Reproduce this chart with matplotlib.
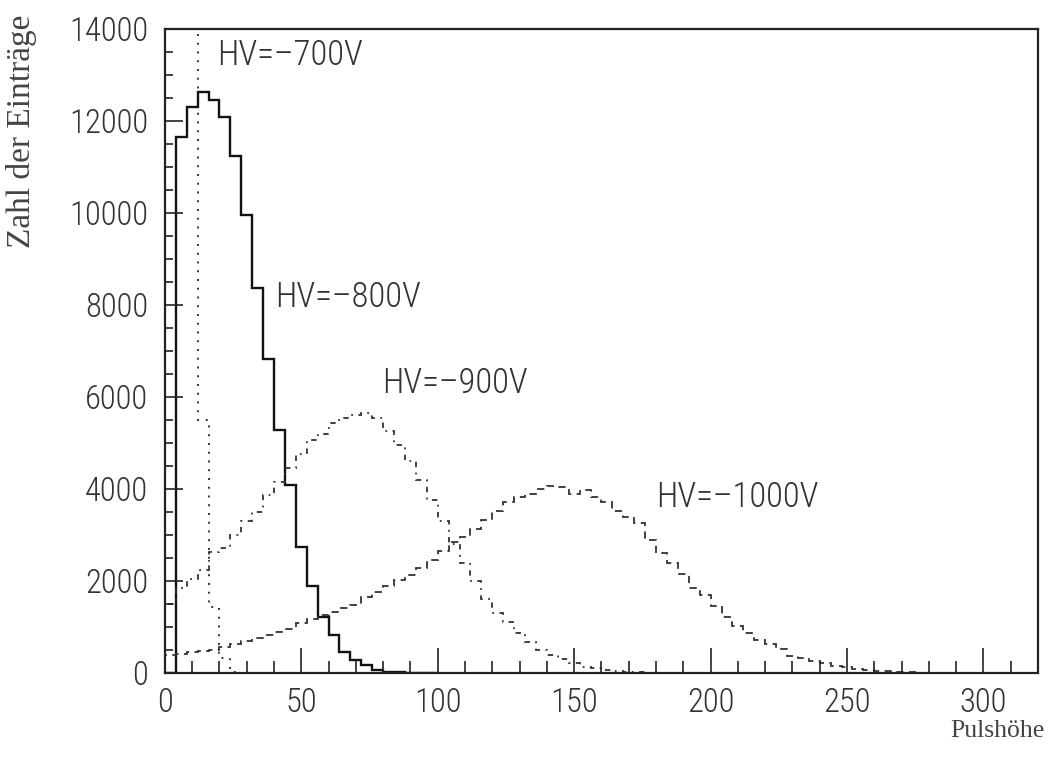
import numpy as np
import matplotlib
matplotlib.use("Agg")
import matplotlib.pyplot as plt
from matplotlib.ticker import MultipleLocator

# pulse-height spectra, 4-channel bins starting at 0
bin_width = 4

hv700 = [15500, 30000, 26000, 5500, 1430, 330, 30, 0]

hv800 = [0, 11660, 12300, 12640, 12460, 12090, 11240, 9960, 8370, 6830,
         5280, 4090, 2740, 1890, 1220, 830, 460, 280, 170, 65,
         30, 15, 8, 4, 0]

hv900 = [1500, 1850, 2050, 2240, 2630, 2720, 3000, 3300, 3500, 3870,
         4150, 4450, 4750, 5070, 5200, 5430, 5550, 5610, 5650, 5550,
         5250, 4950, 4600, 4200, 3750, 3300, 2800, 2400, 2000, 1600,
         1300, 1100, 870, 680, 500, 380, 300, 210, 140, 110,
         70, 50, 30, 20, 10, 5, 0]

hv1000 = [380, 420, 460, 480, 510, 570, 630, 700, 770, 830,
          880, 960, 1080, 1180, 1260, 1330, 1410, 1480, 1650, 1770,
          1880, 2020, 2140, 2290, 2460, 2650, 2850, 2960, 3140, 3330,
          3520, 3720, 3820, 3880, 4000, 4070, 4040, 3880, 3980, 3820,
          3720, 3520, 3380, 3260, 2880, 2600, 2400, 2150, 1850, 1690,
          1450, 1220, 1020, 860, 720, 630, 520, 360, 320, 260,
          210, 160, 120, 85, 60, 45, 38, 25, 15, 10,
          5, 3, 0]

labels = ["HV=\u2013700V", "HV=\u2013800V", "HV=\u2013900V", "HV=\u20131000V"]
label_pos = [(19, 13430), (40.3, 8170), (79.8, 6300), (180, 3830)]

sans = ["Roboto Condensed", "Liberation Sans Narrow", "Roboto", "DejaVu Sans"]
serif = ["Liberation Serif", "DejaVu Serif"]
ink = "#333333"

fig = plt.figure(figsize=(10.5, 7.63), dpi=100)
ax = fig.add_axes([0.157, 0.118, 0.8316, 0.844])

styles = [
    (hv700, dict(linestyle=(0, (1, 3.5)), lw=1.4, color=ink)),
    (hv800, dict(linestyle="-", lw=1.7, color="#111111")),
    (hv900, dict(linestyle=(0, (3, 3, 1, 3)), lw=1.3, color=ink)),
    (hv1000, dict(linestyle=(0, (4, 3)), lw=1.3, color=ink)),
]
for vals, kw in styles:
    edges = bin_width * np.arange(len(vals) + 1)
    ax.stairs(vals, edges, baseline=0, **kw)

for text, (x, y) in zip(labels, label_pos):
    ax.text(x, y, text, ha="left", va="center", fontsize=25,
            family=sans, fontweight="light", color=ink)

ax.set_xlim(0, 320)
ax.set_ylim(0, 14000)
ax.xaxis.set_major_locator(MultipleLocator(50))
ax.xaxis.set_minor_locator(MultipleLocator(10))
ax.yaxis.set_major_locator(MultipleLocator(2000))
ax.yaxis.set_minor_locator(MultipleLocator(500))
ax.tick_params(which="both", direction="in", top=False, right=False,
               width=1.2, color="#222222", labelcolor=ink)
ax.tick_params(axis="x", which="major", length=18, pad=10)
ax.tick_params(axis="x", which="minor", length=9)
ax.tick_params(axis="y", which="major", length=13, pad=12)
ax.tick_params(axis="y", which="minor", length=6)
for lab in ax.get_xticklabels() + ax.get_yticklabels():
    lab.set_family(sans)
    lab.set_fontweight("light")
    lab.set_fontsize(23.5)
for sp in ax.spines.values():
    sp.set_linewidth(1.6)
    sp.set_color("#222222")

ax.text(-0.164, 1.022, "Zahl der Einträge", transform=ax.transAxes,
        rotation=90, ha="center", va="top", fontsize=24, family=serif,
        color="#444444")
ax.text(1.008, -0.090, "Pulshöhe", transform=ax.transAxes,
        ha="right", va="center", fontsize=18.5, family=serif, color="#444444")

fig.savefig("out.png", dpi=100)
